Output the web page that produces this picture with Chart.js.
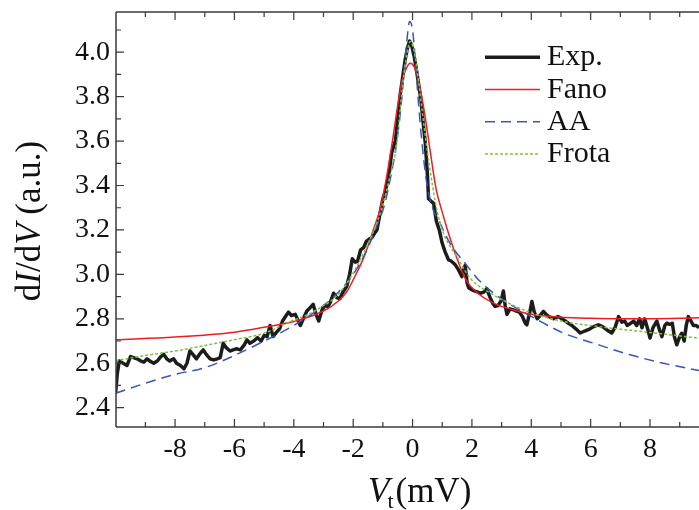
<!DOCTYPE html>
<html>
<head>
<meta charset="utf-8">
<script src="https://cdn.jsdelivr.net/npm/chart.js@4"></script>
<style>
html, body { margin: 0; padding: 0; background: #fff; }
#wrap { width: 699px; height: 510px; }
</style>
</head>
<body>
<div id="wrap"><canvas id="chart" width="699" height="510"></canvas></div>
<script>
// measured dI/dV curve
var expX = [-10.0, -9.95, -9.88, -9.75, -9.62, -9.5, -9.4, -9.28, -9.15, -9.05, -8.95, -8.85, -8.72, -8.6, -8.48, -8.38, -8.28, -8.18, -8.05, -7.95,
  -7.82, -7.7, -7.6, -7.5, -7.4, -7.28, -7.15, -7.05, -6.95, -6.82, -6.7, -6.58, -6.48, -6.38, -6.28, -6.15, -6.05, -5.92, -5.8, -5.68,
  -5.58, -5.48, -5.35, -5.22, -5.1, -5.0, -4.9, -4.8, -4.7, -4.58, -4.48, -4.38, -4.28, -4.18, -4.08, -3.95, -3.85, -3.78, -3.68, -3.56,
  -3.45, -3.35, -3.25, -3.16, -3.05, -2.95, -2.85, -2.77, -2.66, -2.55, -2.45, -2.35, -2.22, -2.12, -2.03, -1.93, -1.85, -1.75, -1.65, -1.55,
  -1.45, -1.37, -1.28, -1.2, -1.1, -1.0, -0.92, -0.8, -0.7, -0.58, -0.5, -0.41, -0.33, -0.25, -0.17, -0.1, -0.03, 0.05, 0.12, 0.2,
  0.28, 0.36, 0.43, 0.5, 0.54, 0.62, 0.71, 0.8, 0.9, 1.0, 1.1, 1.21, 1.3, 1.44, 1.55, 1.66, 1.72, 1.77, 1.84, 1.89,
  2.0, 2.1, 2.2, 2.28, 2.4, 2.5, 2.6, 2.7, 2.78, 2.88, 2.98, 3.06, 3.12, 3.18, 3.28, 3.4, 3.5, 3.6, 3.7, 3.8,
  3.85, 3.95, 4.02, 4.1, 4.2, 4.3, 4.41, 4.5, 4.6, 4.75, 4.9, 5.03, 5.15, 5.25, 5.37, 5.5, 5.65, 5.8, 5.98, 6.1,
  6.26, 6.4, 6.55, 6.71, 6.82, 6.94, 7.05, 7.15, 7.23, 7.35, 7.45, 7.55, 7.65, 7.73, 7.82, 7.92, 8.0, 8.1, 8.23, 8.32,
  8.4, 8.5, 8.56, 8.66, 8.75, 8.82, 8.9, 9.0, 9.07, 9.15, 9.22, 9.29, 9.38, 9.46, 9.55, 9.65];
var expY = [2.47, 2.55, 2.61, 2.6, 2.59, 2.63, 2.625, 2.62, 2.61, 2.605, 2.62, 2.61, 2.6, 2.61, 2.63, 2.64, 2.62, 2.61, 2.62, 2.6,
  2.59, 2.575, 2.6, 2.655, 2.64, 2.62, 2.645, 2.66, 2.64, 2.62, 2.615, 2.62, 2.625, 2.69, 2.67, 2.655, 2.66, 2.665, 2.66, 2.68,
  2.705, 2.69, 2.7, 2.715, 2.7, 2.725, 2.72, 2.77, 2.72, 2.74, 2.755, 2.79, 2.81, 2.83, 2.815, 2.82, 2.79, 2.77, 2.8, 2.835,
  2.85, 2.865, 2.82, 2.79, 2.84, 2.86, 2.855, 2.875, 2.915, 2.895, 2.89, 2.92, 2.945, 3.0, 3.07, 3.055, 3.06, 3.11, 3.12, 3.15,
  3.16, 3.165, 3.185, 3.2, 3.27, 3.34, 3.37, 3.45, 3.55, 3.6, 3.7, 3.815, 3.89, 3.965, 4.02, 4.05, 4.03, 3.985, 3.93, 3.86,
  3.79, 3.68, 3.59, 3.45, 3.34, 3.33, 3.32, 3.24, 3.2, 3.14, 3.1, 3.066, 3.06, 3.043, 3.02, 2.99, 3.02, 3.04, 2.96, 2.94,
  2.93, 2.925, 2.92, 2.915, 2.92, 2.935, 2.9, 2.87, 2.856, 2.86, 2.88, 2.925, 2.86, 2.82, 2.845, 2.84, 2.835, 2.83, 2.81, 2.78,
  2.773, 2.83, 2.878, 2.83, 2.8, 2.815, 2.833, 2.82, 2.81, 2.8, 2.81, 2.8, 2.79, 2.78, 2.77, 2.755, 2.736, 2.745, 2.755, 2.765,
  2.773, 2.765, 2.75, 2.736, 2.76, 2.81, 2.785, 2.79, 2.77, 2.78, 2.79, 2.77, 2.8, 2.76, 2.8, 2.755, 2.713, 2.76, 2.79, 2.75,
  2.72, 2.77, 2.78, 2.775, 2.78, 2.72, 2.683, 2.72, 2.735, 2.7, 2.77, 2.81, 2.79, 2.77, 2.77, 2.76];

// fits
var fanoX = [-10, -8, -6, -5, -4, -3, -2.5, -2.2, -2, -1.6, -1.3, -1.1, -0.9, -0.7, -0.5, -0.35, -0.2, -0.08, 0.05, 0.2,
  0.4, 0.6, 0.8, 1.0, 1.2, 1.5, 1.8, 2.2, 2.8, 3.4, 4, 5, 6, 7, 8, 9, 9.65];
var fanoY = [2.706, 2.718, 2.74, 2.762, 2.788, 2.835, 2.88, 2.925, 2.975, 3.09, 3.21, 3.29, 3.42, 3.58, 3.76, 3.875, 3.93, 3.95, 3.935, 3.87,
  3.73, 3.55, 3.38, 3.28, 3.19, 3.07, 2.975, 2.915, 2.866, 2.84, 2.82, 2.807, 2.802, 2.8, 2.8, 2.802, 2.805];

var aaX = [-10, -9, -8, -7, -6, -5, -4, -3, -2.5, -2, -1.5, -1.2, -0.95, -0.75, -0.55, -0.4, -0.3, -0.2, -0.1, 0.0,
  0.1, 0.2, 0.32, 0.48, 0.7, 0.9, 1.1, 1.33, 1.77, 2.22, 2.73, 3.4, 4.2, 5.08, 6.1, 7.33, 8.45, 9.65];
var aaY = [2.465, 2.51, 2.55, 2.58, 2.635, 2.7, 2.77, 2.86, 2.92, 3.0, 3.12, 3.22, 3.31, 3.43, 3.58, 3.74, 3.89, 4.04, 4.138, 4.1,
  3.95, 3.77, 3.59, 3.41, 3.29, 3.24, 3.18, 3.125, 3.05, 2.976, 2.916, 2.856, 2.796, 2.736, 2.69, 2.638, 2.6, 2.567];

var frotaX = [-10, -9, -8, -7, -6, -5, -4.12, -3.5, -3, -2.66, -2.21, -1.65, -1.3, -1.05, -0.8, -0.53, -0.36, -0.2, -0.08, 0.09,
  0.32, 0.54, 0.82, 1.04, 1.49, 1.94, 2.62, 3.4, 4.19, 5.08, 6.2, 7.89, 9.65];
var frotaY = [2.611, 2.635, 2.655, 2.68, 2.706, 2.735, 2.788, 2.82, 2.86, 2.89, 2.96, 3.096, 3.2, 3.29, 3.42, 3.59, 3.82, 3.98, 4.048, 3.98,
  3.74, 3.515, 3.29, 3.186, 3.08, 2.983, 2.916, 2.86, 2.818, 2.788, 2.766, 2.74, 2.713];

var xTicks = [-8, -6, -4, -2, 0, 2, 4, 6, 8];
var xMinor = [-9, -7, -5, -3, -1, 1, 3, 5, 7, 9];
var yTicks = [2.4, 2.6, 2.8, 3.0, 3.2, 3.4, 3.6, 3.8, 4.0];
var yMinor = [2.5, 2.7, 2.9, 3.1, 3.3, 3.5, 3.7, 3.9, 4.1];
var legendNames = ['Exp.', 'Fano', 'AA', 'Frota'];

var SERIF = '"Liberation Serif", "DejaVu Serif", serif';

function pts(xs, ys) {
  return xs.map(function(x, i) { return { x: x, y: ys[i] }; });
}

var axisPlugin = {
  id: 'axisPlugin',
  afterDraw: function(chart) {
    var c = chart.ctx;
    var a = chart.chartArea;
    var xs = chart.scales.x, ys = chart.scales.y;
    c.save();
    c.strokeStyle = '#3a3a3a';
    c.lineWidth = 1.5;
    c.beginPath();
    c.moveTo(a.left, a.top); c.lineTo(a.right, a.top);
    c.moveTo(a.left, a.top); c.lineTo(a.left, a.bottom);
    c.moveTo(a.left, a.bottom); c.lineTo(a.right, a.bottom);
    c.stroke();
    c.lineWidth = 1.2;
    c.beginPath();
    function xt(list, len) {
      list.forEach(function(v) {
        var p = xs.getPixelForValue(v);
        c.moveTo(p, a.bottom); c.lineTo(p, a.bottom - len);
        c.moveTo(p, a.top); c.lineTo(p, a.top + len);
      });
    }
    function yt(list, len) {
      list.forEach(function(v) {
        var p = ys.getPixelForValue(v);
        c.moveTo(a.left, p); c.lineTo(a.left + len, p);
      });
    }
    xt(xTicks, 8); xt(xMinor, 5);
    yt(yTicks, 8); yt(yMinor, 5);
    c.stroke();

    // legend
    c.font = '30px ' + SERIF;
    c.fillStyle = '#111';
    c.textBaseline = 'alphabetic';
    chart.data.datasets.forEach(function(ds, i) {
      var ly = 57.3 + i * 32.2;
      c.beginPath();
      c.strokeStyle = ds.borderColor;
      c.lineWidth = ds.borderWidth;
      c.setLineDash(ds.borderDash || []);
      c.moveTo(485, ly); c.lineTo(540, ly);
      c.stroke();
      c.setLineDash([]);
      c.fillText(legendNames[i], 547, ly + 8);
    });

    // y title
    c.save();
    c.translate(40, 221);
    c.rotate(-Math.PI / 2);
    var parts = [['d', ''], ['I', 'italic '], ['/d', ''], ['V', 'italic '], [' (a.u.)', '']];
    var total = 0;
    parts.forEach(function(p) { c.font = p[1] + '35px ' + SERIF; total += c.measureText(p[0]).width; });
    var px = -total / 2;
    parts.forEach(function(p) {
      c.font = p[1] + '35px ' + SERIF;
      c.fillText(p[0], px, 0);
      px += c.measureText(p[0]).width;
    });
    c.restore();

    // x title
    var tx = 368;
    c.font = 'italic 35px ' + SERIF;
    c.fillText('V', tx, 502);
    tx += c.measureText('V').width - 2;
    c.font = '22px ' + SERIF;
    c.fillText('t', tx, 508);
    tx += c.measureText('t').width + 2;
    c.font = '35px ' + SERIF;
    c.fillText('(mV)', tx, 502);
    c.restore();
  }
};

var chart = new Chart(document.getElementById('chart'), {
  type: 'line',
  data: {
    datasets: [
      { label: 'Exp.', data: pts(expX, expY), borderColor: '#1c1c1c', borderWidth: 3.5, borderJoinStyle: 'round', pointRadius: 0, order: 4 },
      { label: 'Fano', data: pts(fanoX, fanoY), borderColor: '#ee1c25', borderWidth: 1.5, pointRadius: 0, cubicInterpolationMode: 'monotone', order: 3 },
      { label: 'AA', data: pts(aaX, aaY), borderColor: '#3856b4', borderWidth: 1.5, borderDash: [10, 6], pointRadius: 0, cubicInterpolationMode: 'monotone', order: 2 },
      { label: 'Frota', data: pts(frotaX, frotaY), borderColor: '#7cc241', borderWidth: 1.5, borderDash: [3, 2], pointRadius: 0, cubicInterpolationMode: 'monotone', order: 1 }
    ]
  },
  options: {
    responsive: false,
    animation: false,
    events: [],
    layout: { padding: { top: 12, right: 0, left: 0, bottom: 0 } },
    plugins: { legend: { display: false }, tooltip: { enabled: false } },
    scales: {
      x: {
        type: 'linear',
        min: -9.99,
        max: 9.65,
        grid: { display: false, drawTicks: false },
        border: { display: false },
        afterBuildTicks: function(s) { s.ticks = xTicks.map(function(v) { return { value: v }; }); },
        afterFit: function(s) { s.height = 83; s.paddingLeft = 0; s.paddingRight = 0; },
        ticks: {
          autoSkip: false, maxRotation: 0, padding: 6, color: '#111',
          font: { family: SERIF, size: 28 },
          callback: function(v) { return String(v); }
        }
      },
      y: {
        type: 'linear',
        min: 2.313,
        max: 4.181,
        grid: { display: false, drawTicks: false },
        border: { display: false },
        afterBuildTicks: function(s) { s.ticks = yTicks.map(function(v) { return { value: v }; }); },
        afterFit: function(s) { s.width = 116; s.paddingTop = 0; s.paddingBottom = 0; },
        ticks: {
          autoSkip: false, padding: 6, color: '#111',
          font: { family: SERIF, size: 28 },
          callback: function(v) { return v.toFixed(1); }
        }
      }
    }
  },
  plugins: [axisPlugin]
});
</script>
</body>
</html>
